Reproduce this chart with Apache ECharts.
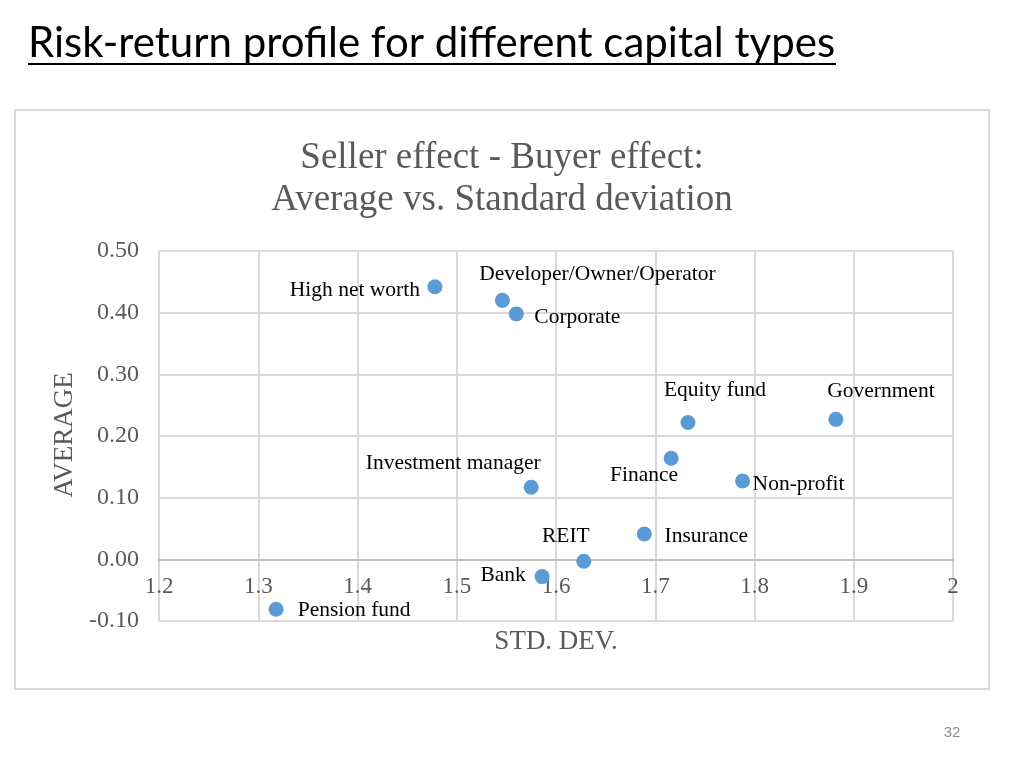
<!DOCTYPE html>
<html>
<head>
<meta charset="utf-8">
<script src="https://cdn.jsdelivr.net/npm/echarts@6/dist/echarts.min.js"></script>
<style>
html,body{margin:0;padding:0;background:#fff;}
#c{width:1024px;height:768px;}
</style>
</head>
<body>
<div id="c"></div>
<script>
// ---- data ----
const names = ["High net worth","Developer/Owner/Operator","Corporate","Equity fund","Government","Finance","Non-profit","Investment manager","Insurance","REIT","Bank","Pension fund"];
const stdDev = [1.478,1.546,1.560,1.733,1.882,1.716,1.788,1.575,1.689,1.628,1.586,1.318];
const average = [0.442,0.420,0.398,0.222,0.227,0.164,0.127,0.117,0.041,-0.003,-0.028,-0.081];
const xTicks = [1.2,1.3,1.4,1.5,1.6,1.7,1.8,1.9,2];
const yTicks = [-0.10,0.00,0.10,0.20,0.30,0.40,0.50];

// label placement (style only)
const labelOffsets = {
  "High net worth":[-80,4],
  "Developer/Owner/Operator":[95,-26],
  "Corporate":[61,3],
  "Equity fund":[27,-32],
  "Government":[45,-28],
  "Finance":[-27,17],
  "Non-profit":[56,3],
  "Investment manager":[-78,-24],
  "Insurance":[62,2],
  "REIT":[-18,-25],
  "Bank":[-39,-1],
  "Pension fund":[78,1]
};

const serif = '"Liberation Serif","Times New Roman",serif';
const grey = '#595959';

const points = names.map((n,i)=>({
  name:n,
  value:[stdDev[i],average[i]],
  label:{offset:labelOffsets[n]}
}));

const xMin = xTicks[0], xMax = xTicks[xTicks.length-1];
const yMin = yTicks[0], yMax = yTicks[yTicks.length-1];

const chart = echarts.init(document.getElementById('c'));
chart.setOption({
  animation:false,
  grid:[
    {left:159,top:251,width:794,height:370,containLabel:false},
    // upper part (0 .. max) used only to place the x axis on the zero line
    {left:159,top:251,width:794,height:370*(yMax-0)/(yMax-yMin),containLabel:false}
  ],
  xAxis:[{
    type:'value',gridIndex:0,min:xMin,max:xMax,interval:0.1,
    axisLine:{show:false},
    axisTick:{show:false},
    axisLabel:{show:false},
    splitLine:{show:true,lineStyle:{color:'#d9d9d9',width:2}}
  },{
    type:'value',gridIndex:1,min:xMin,max:xMax,interval:0.1,position:'bottom',
    axisLine:{show:true,lineStyle:{color:'#bfbfbf',width:2}},
    axisTick:{show:false},
    axisLabel:{color:grey,fontFamily:serif,fontSize:23,margin:16,
      formatter:v=>String(Math.round(v*10)/10)},
    splitLine:{show:false}
  }],
  yAxis:[{
    type:'value',gridIndex:0,min:yMin,max:yMax,interval:0.1,
    axisLine:{show:false},
    axisTick:{show:false},
    axisLabel:{color:grey,fontFamily:serif,fontSize:24,margin:20,
      formatter:v=>v.toFixed(2)},
    splitLine:{show:true,lineStyle:{color:'#d9d9d9',width:2}}
  },{
    type:'value',gridIndex:1,min:0,max:yMax,show:false
  }],
  series:[{
    type:'scatter',
    xAxisIndex:0,yAxisIndex:0,
    symbolSize:15,
    itemStyle:{color:'#5B9BD5',opacity:1},
    data:points,
    z:5,
    label:{show:true,position:'inside',formatter:p=>p.name,
      color:'#000',fontFamily:serif,fontSize:21.5,align:'center',verticalAlign:'middle'}
  }],
  graphic:[
    {type:'rect',shape:{x:15,y:110,width:974,height:579},style:{fill:'none',stroke:'#d9d9d9',lineWidth:2},z:-10},
    {type:'text',left:28,top:22,style:{text:'Risk-return profile for different capital types',
      font:'42px Lato, "Open Sans", sans-serif',fill:'#000'}},
    {type:'line',shape:{x1:28,y1:64,x2:836,y2:64},style:{stroke:'#000',lineWidth:2}},
    {type:'text',x:502,y:158,style:{text:'Seller effect - Buyer effect:',font:'37px '+serif,fill:grey,align:'center',verticalAlign:'middle'}},
    {type:'text',x:502,y:200,style:{text:'Average vs. Standard deviation',font:'37px '+serif,fill:grey,align:'center',verticalAlign:'middle'}},
    {type:'text',x:65,y:435,rotation:Math.PI/2,style:{text:'AVERAGE',font:'27px '+serif,fill:grey,align:'center',verticalAlign:'middle'}},
    {type:'text',x:556,y:642,style:{text:'STD. DEV.',font:'27px '+serif,fill:grey,align:'center',verticalAlign:'middle'}},
    {type:'text',x:952,y:733,style:{text:'32',font:'15px "Liberation Sans", sans-serif',fill:'#8c8c8c',align:'center',verticalAlign:'middle'}}
  ]
});
</script>
</body>
</html>
